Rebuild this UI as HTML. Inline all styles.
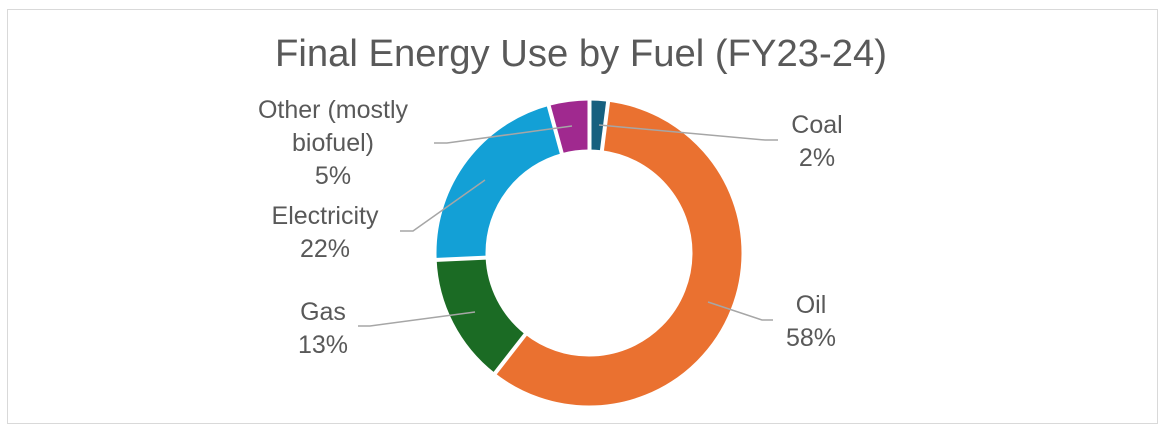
<!DOCTYPE html>
<html><head><meta charset="utf-8"><style>
html,body{margin:0;padding:0;background:#fff;}
svg{display:block;}
text{font-family:"Liberation Sans",sans-serif;fill:#595959;}
</style></head><body>
<svg width="1165" height="431" viewBox="0 0 1165 431">
<rect x="7.5" y="9.5" width="1150" height="414" fill="#fff" stroke="#d9d9d9" stroke-width="1"/>
<text x="581" y="66" font-size="38" text-anchor="middle" textLength="612" lengthAdjust="spacingAndGlyphs">Final Energy Use by Fuel (FY23-24)</text>
<g transform="rotate(-90 589 253)" fill="none" stroke-width="49">
<circle cx="589" cy="253" r="128" stroke="#17607f" stroke-dasharray="15.64 804.25" stroke-dashoffset="0"/>
<circle cx="589" cy="253" r="128" stroke="#ea7130" stroke-dasharray="471.4 804.25" stroke-dashoffset="-15.64"/>
<circle cx="589" cy="253" r="128" stroke="#1b6b24" stroke-dasharray="110.4 804.25" stroke-dashoffset="-487.04"/>
<circle cx="589" cy="253" r="128" stroke="#13a0d6" stroke-dasharray="172.7 804.25" stroke-dashoffset="-597.44"/>
<circle cx="589" cy="253" r="128" stroke="#a0298f" stroke-dasharray="34.3 804.25" stroke-dashoffset="-770.1"/>
</g>
<g stroke="#fff" stroke-width="4">
<line x1="589.5" y1="150" x2="589.5" y2="98"/>
<line x1="601.5" y1="153.8" x2="608.4" y2="99.2"/>
<line x1="527.4" y1="331.8" x2="493.6" y2="375.1"/>
<line x1="489.1" y1="257.5" x2="434.2" y2="260.0"/>
<line x1="562.6" y1="156.5" x2="548.1" y2="103.5"/>
</g>
<g stroke="#a6a6a6" stroke-width="1.5" fill="none">
<polyline points="599,125 765,140 778,140"/>
<polyline points="708,302 762,320 773,320"/>
<polyline points="475,312 370,326 358,326"/>
<polyline points="485,180 413,231 400,231"/>
<polyline points="572,126 447,143 434,143"/>
</g>
<g font-size="25" text-anchor="middle">
<text x="817" y="133">Coal</text><text x="817" y="166">2%</text>
<text x="811" y="313">Oil</text><text x="811" y="346">58%</text>
<text x="323" y="320">Gas</text><text x="323" y="353">13%</text>
<text x="325" y="224">Electricity</text><text x="325" y="257">22%</text>
<text x="333" y="118">Other (mostly</text><text x="333" y="151">biofuel)</text><text x="333" y="184">5%</text>
</g>
</svg>
</body></html>
